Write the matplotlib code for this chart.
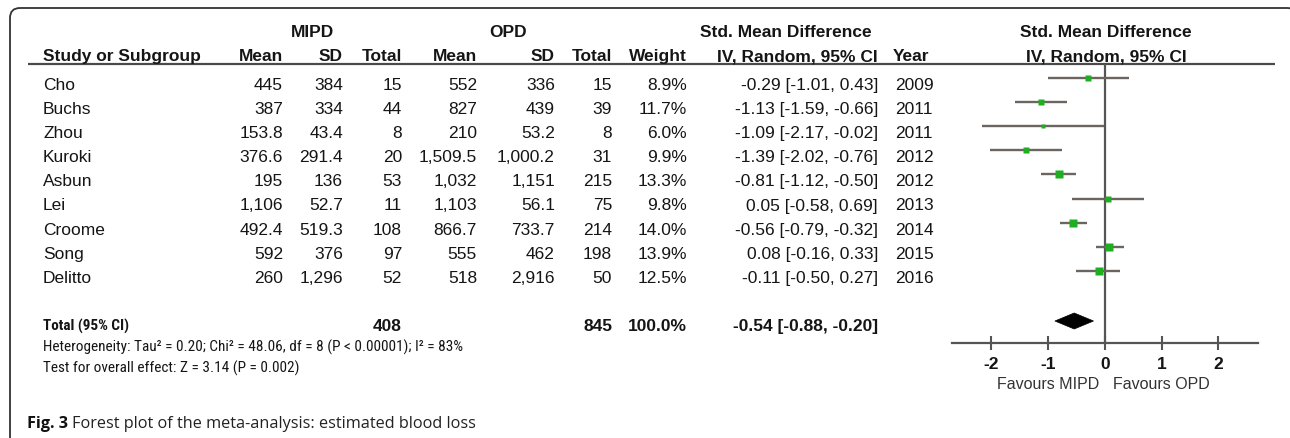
import numpy as np
import matplotlib.pyplot as plt
from matplotlib.patches import FancyBboxPatch, Polygon
from matplotlib import font_manager

# data
studies = ['Cho', 'Buchs', 'Zhou', 'Kuroki', 'Asbun', 'Lei', 'Croome', 'Song', 'Delitto']
mipd_mean = ['445', '387', '153.8', '376.6', '195', '1,106', '492.4', '592', '260']
mipd_sd = ['384', '334', '43.4', '291.4', '136', '52.7', '519.3', '376', '1,296']
mipd_n = [15, 44, 8, 20, 53, 11, 108, 97, 52]
opd_mean = ['552', '827', '210', '1,509.5', '1,032', '1,103', '866.7', '555', '518']
opd_sd = ['336', '439', '53.2', '1,000.2', '1,151', '56.1', '733.7', '462', '2,916']
opd_n = [15, 39, 8, 31, 215, 75, 214, 198, 50]
weight = [8.9, 11.7, 6.0, 9.9, 13.3, 9.8, 14.0, 13.9, 12.5]
smd = [-0.29, -1.13, -1.09, -1.39, -0.81, 0.05, -0.56, 0.08, -0.11]
ci_lo = [-1.01, -1.59, -2.17, -2.02, -1.12, -0.58, -0.79, -0.16, -0.50]
ci_hi = [0.43, -0.66, -0.02, -0.76, -0.50, 0.69, -0.32, 0.33, 0.27]
year = [2009, 2011, 2011, 2012, 2012, 2013, 2014, 2015, 2016]
total_smd, total_lo, total_hi = -0.54, -0.88, -0.20
total_mipd, total_opd = 408, 845
x_ticks = [-2, -1, 0, 1, 2]

# footnote in the reference is a narrow face; use one if any is installed
names = set(f.name for f in font_manager.fontManager.ttflist)
narrow = None
for cand in ['Liberation Sans Narrow', 'Arial Narrow', 'Roboto Condensed', 'Open Sans Condensed',
             'Noto Sans Condensed', 'DejaVu Sans Condensed']:
    if cand in names:
        narrow = cand
        break

plt.rcParams['font.family'] = ['Liberation Sans', 'DejaVu Sans']
txt = '#151515'
fs = 12.5
if narrow:
    foot_font, fs_small = [narrow, 'DejaVu Sans'], 11.0
else:
    foot_font, fs_small = ['Liberation Sans', 'DejaVu Sans'], 10.0

fig = plt.figure(figsize=(12.9, 4.38), dpi=100)
ax = fig.add_axes([0, 0, 1, 1])
ax.set_xlim(0, 1290)
ax.set_ylim(438, 0)
ax.axis('off')

# rounded frame (bottom and right run off the picture)
ax.add_patch(FancyBboxPatch((10, 8), 1287, 460, boxstyle='round,pad=0,rounding_size=10',
                            fc='none', ec='#333333', lw=1.3))

# header
hy1, hy2 = 37, 61
ax.text(313, hy1, 'MIPD', ha='center', va='baseline', fontsize=fs, fontweight='bold', color=txt)
ax.text(508, hy1, 'OPD', ha='center', va='baseline', fontsize=fs, fontweight='bold', color=txt)
ax.text(786, hy1, 'Std. Mean Difference', ha='center', va='baseline', fontsize=fs, fontweight='bold', color=txt)
ax.text(1106, hy1, 'Std. Mean Difference', ha='center', va='baseline', fontsize=fs, fontweight='bold', color=txt)
ax.text(43, hy2, 'Study or Subgroup', ha='left', va='baseline', fontsize=fs, fontweight='bold', color=txt)
for xr, lab in [(283, 'Mean'), (343, 'SD'), (402, 'Total'), (477, 'Mean'), (555, 'SD'),
                (612, 'Total'), (687, 'Weight'), (878, 'IV, Random, 95% CI')]:
    ax.text(xr, hy2, lab, ha='right', va='baseline', fontsize=fs, fontweight='bold', color=txt)
ax.text(893, hy2, 'Year', ha='left', va='baseline', fontsize=fs, fontweight='bold', color=txt)
ax.text(1106, hy2, 'IV, Random, 95% CI', ha='center', va='baseline', fontsize=fs, fontweight='bold', color=txt)
ax.hlines(64, 28, 1275, color='#4a4a4a', lw=1.6)

# study rows
y0, dy = 90, 24.1
rows_y = y0 + dy * np.arange(len(studies))
for i, yb in enumerate(rows_y):
    ci_txt = f'{smd[i]:.2f} [{ci_lo[i]:.2f}, {ci_hi[i]:.2f}]'
    cells = [(283, mipd_mean[i]), (343, mipd_sd[i]), (402, str(mipd_n[i])),
             (477, opd_mean[i]), (555, opd_sd[i]), (612, str(opd_n[i])),
             (687, f'{weight[i]:.1f}%'), (878, ci_txt)]
    ax.text(43, yb, studies[i], ha='left', va='baseline', fontsize=fs, color=txt)
    for xr, s in cells:
        ax.text(xr, yb, s, ha='right', va='baseline', fontsize=fs, color=txt)
    ax.text(895, yb, str(year[i]), ha='left', va='baseline', fontsize=fs, color=txt)

# total + footnotes
ty = 331
ax.text(43, ty, 'Total (95% CI)', ha='left', va='baseline', fontsize=fs_small,
        fontweight='bold', color=txt, family=foot_font)
ax.text(402, ty, str(total_mipd), ha='right', va='baseline', fontsize=fs, fontweight='bold', color=txt)
ax.text(612, ty, str(total_opd), ha='right', va='baseline', fontsize=fs, fontweight='bold', color=txt)
ax.text(687, ty, f'{sum(weight):.1f}%', ha='right', va='baseline', fontsize=fs, fontweight='bold', color=txt)
ax.text(878, ty, f'{total_smd:.2f} [{total_lo:.2f}, {total_hi:.2f}]', ha='right', va='baseline',
        fontsize=fs, fontweight='bold', color=txt)
ax.text(43, 352, 'Heterogeneity: Tau² = 0.20; Chi² = 48.06, df = 8 (P < 0.00001); I² = 83%',
        ha='left', va='baseline', fontsize=fs_small, color=txt, family=foot_font)
ax.text(43, 373, 'Test for overall effect: Z = 3.14 (P = 0.002)',
        ha='left', va='baseline', fontsize=fs_small, color=txt, family=foot_font)

# caption
ax.text(27, 428, 'Fig. 3', ha='left', va='baseline', fontsize=11.7, fontweight='bold',
        family='Open Sans', color='#111111')
ax.text(72, 428, 'Forest plot of the meta-analysis: estimated blood loss', ha='left',
        va='baseline', fontsize=11.7, family='Open Sans', color='#222222')

# forest panel
fx = fig.add_axes([951.7 / 1290, 0, 306.3 / 1290, 1])
fx.set_xlim(-2.7, 2.7)
fx.set_ylim(438, 0)
fx.patch.set_visible(False)
for s in ['top', 'left', 'right']:
    fx.spines[s].set_visible(False)
fx.spines['bottom'].set_position(('data', 343))
fx.spines['bottom'].set_color('#555555')
fx.spines['bottom'].set_linewidth(1.6)
fx.set_yticks([])
fx.set_xticks(x_ticks)
fx.set_xticklabels([str(t) for t in x_ticks], fontweight='bold', fontsize=fs, color=txt)
fx.tick_params(axis='x', direction='inout', length=10, width=1.5, color='#555555', pad=5)

fy = rows_y - 12
fx.vlines(0, 64, 343, color='#555555', lw=1.6)
fx.hlines(fy, ci_lo, ci_hi, color='#6a6560', lw=1.7)
for i in range(len(studies)):
    fx.plot(smd[i], fy[i], 's', color='#1fae1f', ms=weight[i] * 0.42, mec='none')
dyd = 8
fx.add_patch(Polygon([[total_lo, ty - 10], [total_smd, ty - 10 - dyd], [total_hi, ty - 10],
                      [total_smd, ty - 10 + dyd]], closed=True, fc='black', ec='black', lw=0.5))
fx.text(-0.1, 389, 'Favours MIPD', ha='right', va='baseline', fontsize=11.5, color='#333333')
fx.text(0.14, 389, 'Favours OPD', ha='left', va='baseline', fontsize=11.5, color='#333333')

plt.savefig('out.png', dpi=100)
